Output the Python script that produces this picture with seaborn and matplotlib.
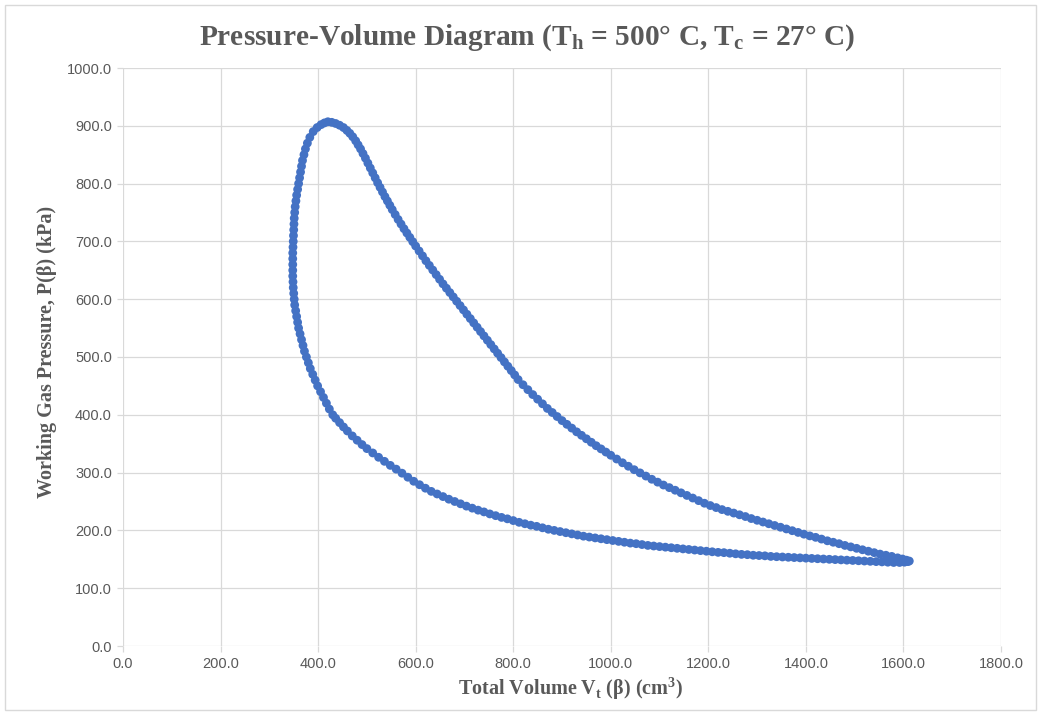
import matplotlib
matplotlib.use("Agg")
import matplotlib.pyplot as plt
import seaborn as sns
import pandas as pd
from matplotlib.ticker import FormatStrFormatter, MultipleLocator
from matplotlib.patches import Rectangle

# ---------------- data ----------------
# upper branch: from the pressure peak down to the maximum-volume tip
vol_upper = [420, 428, 436, 444, 452, 459, 465, 471, 477, 482,
             487, 492, 497, 502, 507, 512, 517, 522, 527, 532,
             537, 542, 547, 552, 558, 564, 570, 576, 582, 588,
             594, 600, 607, 614, 621, 628, 635, 642, 649, 656,
             663, 670, 677, 684, 691, 698, 705, 712, 719, 726,
             733, 740, 747, 754, 761, 768, 775, 782, 789, 796,
             803, 810, 820, 830, 840, 850, 860, 870, 880, 890,
             900, 910, 920, 930, 940, 950, 960, 970, 980, 990,
             1000, 1012, 1024, 1036, 1048, 1060, 1072, 1084, 1096, 1108,
             1120, 1132, 1144, 1156, 1168, 1180, 1192, 1204, 1216, 1228,
             1240, 1252, 1264, 1276, 1288, 1300, 1312, 1324, 1336, 1348,
             1360, 1372, 1384, 1396, 1408, 1420, 1432, 1444, 1456, 1468,
             1480, 1492, 1504, 1516, 1528, 1540, 1552, 1564, 1576, 1588,
             1598, 1606, 1612]
p_upper = [907, 906, 904, 901, 897, 892, 887, 881, 874, 867,
           860, 852, 844, 835.5, 827, 818.5, 810, 801.5, 793.5, 785.5,
           777.5, 770, 762.5, 755, 746.5, 738, 730, 722, 714.5, 707,
           699.5, 692, 683.5, 675, 666.5, 658.5, 650.5, 642.5, 634.5, 626.5,
           619, 611.5, 604, 596.5, 589, 581.5, 574, 566.5, 559, 551.5,
           544, 536.5, 529, 521.5, 514, 506.5, 499, 491.5, 484, 476.5,
           469, 461, 452, 443.5, 435, 427, 419, 411, 404, 397,
           390, 383.5, 377, 370.5, 364.5, 358.5, 352.5, 346.5, 341, 335.5,
           330, 323.5, 317, 311, 305, 299.5, 294, 288.5, 283.5, 278.5,
           274, 269.5, 265, 260.5, 256, 251.5, 247, 243, 239.5, 236,
           233, 230, 227, 224, 220.5, 217.5, 214.5, 211.5, 208.5, 205.5,
           202.5, 199.5, 196.5, 193.5, 190.5, 188, 185, 182, 179.5, 177,
           174, 171.5, 169, 166.5, 164, 161.5, 159, 157, 155, 152.5,
           150.5, 148.5, 147]

# lower branch: from the tip back towards small volume
vol_lower = [1609, 1602, 1592, 1580, 1568, 1556, 1544, 1532, 1520, 1508,
             1496, 1484, 1472, 1460, 1448, 1436, 1424, 1412, 1400, 1388,
             1376, 1364, 1352, 1340, 1328, 1316, 1304, 1292, 1280, 1268,
             1256, 1244, 1232, 1220, 1208, 1196, 1184, 1172, 1160, 1148,
             1136, 1124, 1112, 1100, 1088, 1076, 1064, 1052, 1040, 1028,
             1016, 1004, 992, 980, 968, 956, 944, 932, 920, 908,
             896, 884, 872, 860, 848, 836, 824, 812, 800, 788,
             776, 764, 752, 740, 728, 716, 704, 692, 680, 668,
             656, 644, 632, 620, 608, 596, 584, 572, 560, 548,
             536, 524, 512, 500, 490, 480, 470, 460, 452, 444,
             436]
p_lower = [146, 145, 144.5, 144.5, 145, 145.5, 146, 146.5, 147, 147.5,
           148, 148.5, 149, 149.5, 150, 150.5, 151, 151.5, 152, 152.5,
           153, 153.5, 154, 154.5, 155, 156, 156.5, 157, 158, 158.5,
           159.5, 160.5, 161.5, 162, 163, 164, 165, 166, 167, 168,
           169, 170, 171, 172, 173, 174, 175.5, 177, 178, 179.5,
           181, 182.5, 184, 185.5, 187, 188.5, 190, 192, 194, 196,
           198, 200, 202, 204.5, 207, 209, 211.5, 214, 217, 220,
           222.5, 225.5, 228.5, 232, 235, 238.5, 242, 246, 250, 254,
           258.5, 263, 267.5, 273, 279, 285, 292, 299, 306, 312.5,
           319.5, 326.5, 334, 341.5, 348.5, 356, 363.5, 372, 379, 386.5,
           394]

# left side: rising from the lower branch up to the peak
vol_left = [430, 423, 417, 411, 405, 399, 394, 389, 384, 380,
            376, 372, 369, 366, 363, 360, 358, 356, 354, 352,
            351, 350, 349, 348.5, 348, 348, 348, 348, 348, 348.5,
            349, 349.5, 350, 350.5, 351, 352, 353, 354.5, 356, 358,
            360, 362, 364, 366, 368, 371, 374, 378, 383, 390,
            398, 406, 413]
p_left = [400, 410, 420, 430, 440, 450, 460, 470, 480, 490,
          500, 510, 520, 530, 540, 550, 560, 570, 580, 590,
          600, 610, 620, 630, 640, 650, 660, 670, 680, 690,
          700, 710, 720, 730, 740, 750, 760, 770, 780, 790,
          800, 810, 820, 830, 840, 850, 860, 870, 880, 890,
          897, 902, 905]

title_text = "Pressure-Volume Diagram (T$_\\mathregular{h}$ = 500° C, T$_\\mathregular{c}$ = 27° C)"
x_label = "Total Volume V$_\\mathregular{t}$ (β) (cm$^\\mathregular{3}$)"
y_label = "Working Gas Pressure, P(β) (kPa)"

# ---------------- plotting ----------------
sns.set_theme(style="whitegrid")
plt.rcParams['font.family'] = ['Liberation Sans', 'DejaVu Sans']

df = pd.DataFrame({
    "V": vol_upper + vol_lower + vol_left,
    "P": p_upper + p_lower + p_left,
})

W, H = 1041, 715
fig = plt.figure(figsize=(W / 100, H / 100), dpi=100)
fig.patch.set_facecolor("white")
L, R, T, B = 123, 1001, 68, 646
ax = fig.add_axes([L / W, 1 - B / H, (R - L) / W, (B - T) / H])
ax.set_facecolor("white")

sns.scatterplot(data=df, x="V", y="P", ax=ax, color="#4472C4", s=40,
                linewidth=0, edgecolor="none", legend=False, zorder=3)

ax.set_xlim(0, 1800)
ax.set_ylim(0, 1000)
ax.xaxis.set_major_locator(MultipleLocator(200))
ax.yaxis.set_major_locator(MultipleLocator(100))
ax.xaxis.set_major_formatter(FormatStrFormatter("%.1f"))
ax.yaxis.set_major_formatter(FormatStrFormatter("%.1f"))
ax.grid(True, color="#D9D9D9", linewidth=0.9)
for s in ax.spines.values():
    s.set_visible(False)
ax.tick_params(axis="both", which="major", length=4, width=0.9, color="#D9D9D9",
               labelcolor="#595959", labelsize=10.5, pad=4, left=True, bottom=True)

lab_font = dict(fontfamily="Liberation Serif", fontweight="bold", fontsize=14.5, color="#595959")
ax.set_xlabel(x_label, **lab_font)
ax.set_ylabel(y_label, **lab_font)
ax.xaxis.set_label_coords((570 - L) / (R - L), (B - 689) / (B - T))
ax.xaxis.label.set_va("center")
ax.yaxis.set_label_coords((47 - L) / (R - L), (B - 352) / (B - T))
ax.yaxis.label.set_va("center")

fig.text(527 / W, 1 - 38 / H, title_text, ha="center", va="center",
         fontfamily="Liberation Serif", fontweight="bold", fontsize=21.2, color="#595959")

fig.add_artist(Rectangle((5 / W, 5 / H), (1036 - 5) / W, (710 - 5) / H,
                         transform=fig.transFigure, fill=False,
                         edgecolor="#D9D9D9", linewidth=1))

fig.savefig("out.png", dpi=100)
